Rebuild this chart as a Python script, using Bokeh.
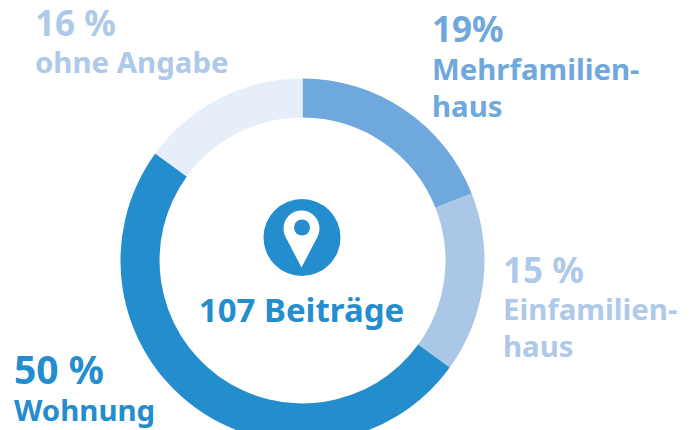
from math import pi, asin, cos, sin
from bokeh.plotting import figure
from bokeh.embed import file_html
from bokeh.resources import INLINE
from bokeh.core.properties import value

categories = ["Mehrfamilienhaus", "Einfamilienhaus", "Wohnung", "ohne Angabe"]
arc_shares = [19, 16, 50, 15]
colors = ["#6fa8dc", "#aac7e8", "#248dce", "#e6eff9"]
pct_labels = ["19%", "15 %", "50 %", "16 %"]
name_labels = [["Mehrfamilien-", "haus"], ["Einfamilien-", "haus"], ["Wohnung"], ["ohne Angabe"]]
text_colors = ["#6fa8dc", "#aec9ea", "#248dce", "#aec9ea"]
label_x = [433, 504, 15, 36]
pct_base = [43, 284, 384, 37]
name_base = [[81, 118], [321, 358], [422], [74]]
center_label = "107 Beiträge"

W, H = 699, 430
FONT = "Noto Sans"
PCT_SIZES = [35, 35, 39, 35]
NAME_SIZE = 29.4
def Y(py):
    return 430 - py
def base(py, size):
    # the renderer draws the baseline lower in proportion to the font size
    return Y(py) + 0.42 * size

p = figure(width=W, height=H, x_range=(0, W), y_range=(0, H), output_backend="svg",
           toolbar_location=None, min_border=0, outline_line_color=None, background_fill_color="white")
p.axis.visible = False
p.grid.visible = False

CX, CY, R_OUT, R_IN = 302, 260, 182, 143
total = sum(arc_shares)
cum = 0
for share, c in zip(arc_shares, colors):
    start = pi / 2 - 2 * pi * (cum + share) / total
    end = pi / 2 - 2 * pi * cum / total
    p.annular_wedge(x=[CX], y=[Y(CY)], inner_radius=R_IN, outer_radius=R_OUT,
                    start_angle=start, end_angle=end, fill_color=c, line_color=None)
    cum += share

# pin icon
ic = "#248dce"
p.circle(x=[301.5], y=[Y(237)], radius=38.5, fill_color=ic, line_color=None)
hx, hy, hr, tipy = 301, 228, 18, 267
d = tipy - hy
a = asin(hr / d)
tx = hr * cos(a)
ty = hr * sin(a)
p.patch(x=[hx - tx, hx, hx + tx], y=[Y(hy + ty), Y(tipy), Y(hy + ty)], fill_color="white", line_color=None)
p.circle(x=[hx], y=[Y(hy)], radius=hr, fill_color="white", line_color=None)
p.circle(x=[hx + 0.5], y=[Y(227)], radius=8, fill_color=ic, line_color=None)

for i in range(4):
    p.text(x=[label_x[i] - 1.5], y=[base(pct_base[i], PCT_SIZES[i])], text=[pct_labels[i]], text_color=text_colors[i],
           text_font=value(FONT), text_font_style="bold", text_font_size=f"{PCT_SIZES[i]}px",
           text_baseline="alphabetic", text_align="left")
    for t, b in zip(name_labels[i], name_base[i]):
        p.text(x=[label_x[i] - 1.5], y=[base(b, NAME_SIZE)], text=[t], text_color=text_colors[i],
               text_font=value(FONT), text_font_style="bold", text_font_size=f"{NAME_SIZE}px",
               text_baseline="alphabetic", text_align="left")

p.text(x=[CX - 1], y=[base(323, 33)], text=[center_label], text_color=ic, text_font=value(FONT),
       text_font_style="bold", text_font_size="33px", text_baseline="alphabetic", text_align="center")

open("out.html", "w").write(file_html(p, INLINE))
